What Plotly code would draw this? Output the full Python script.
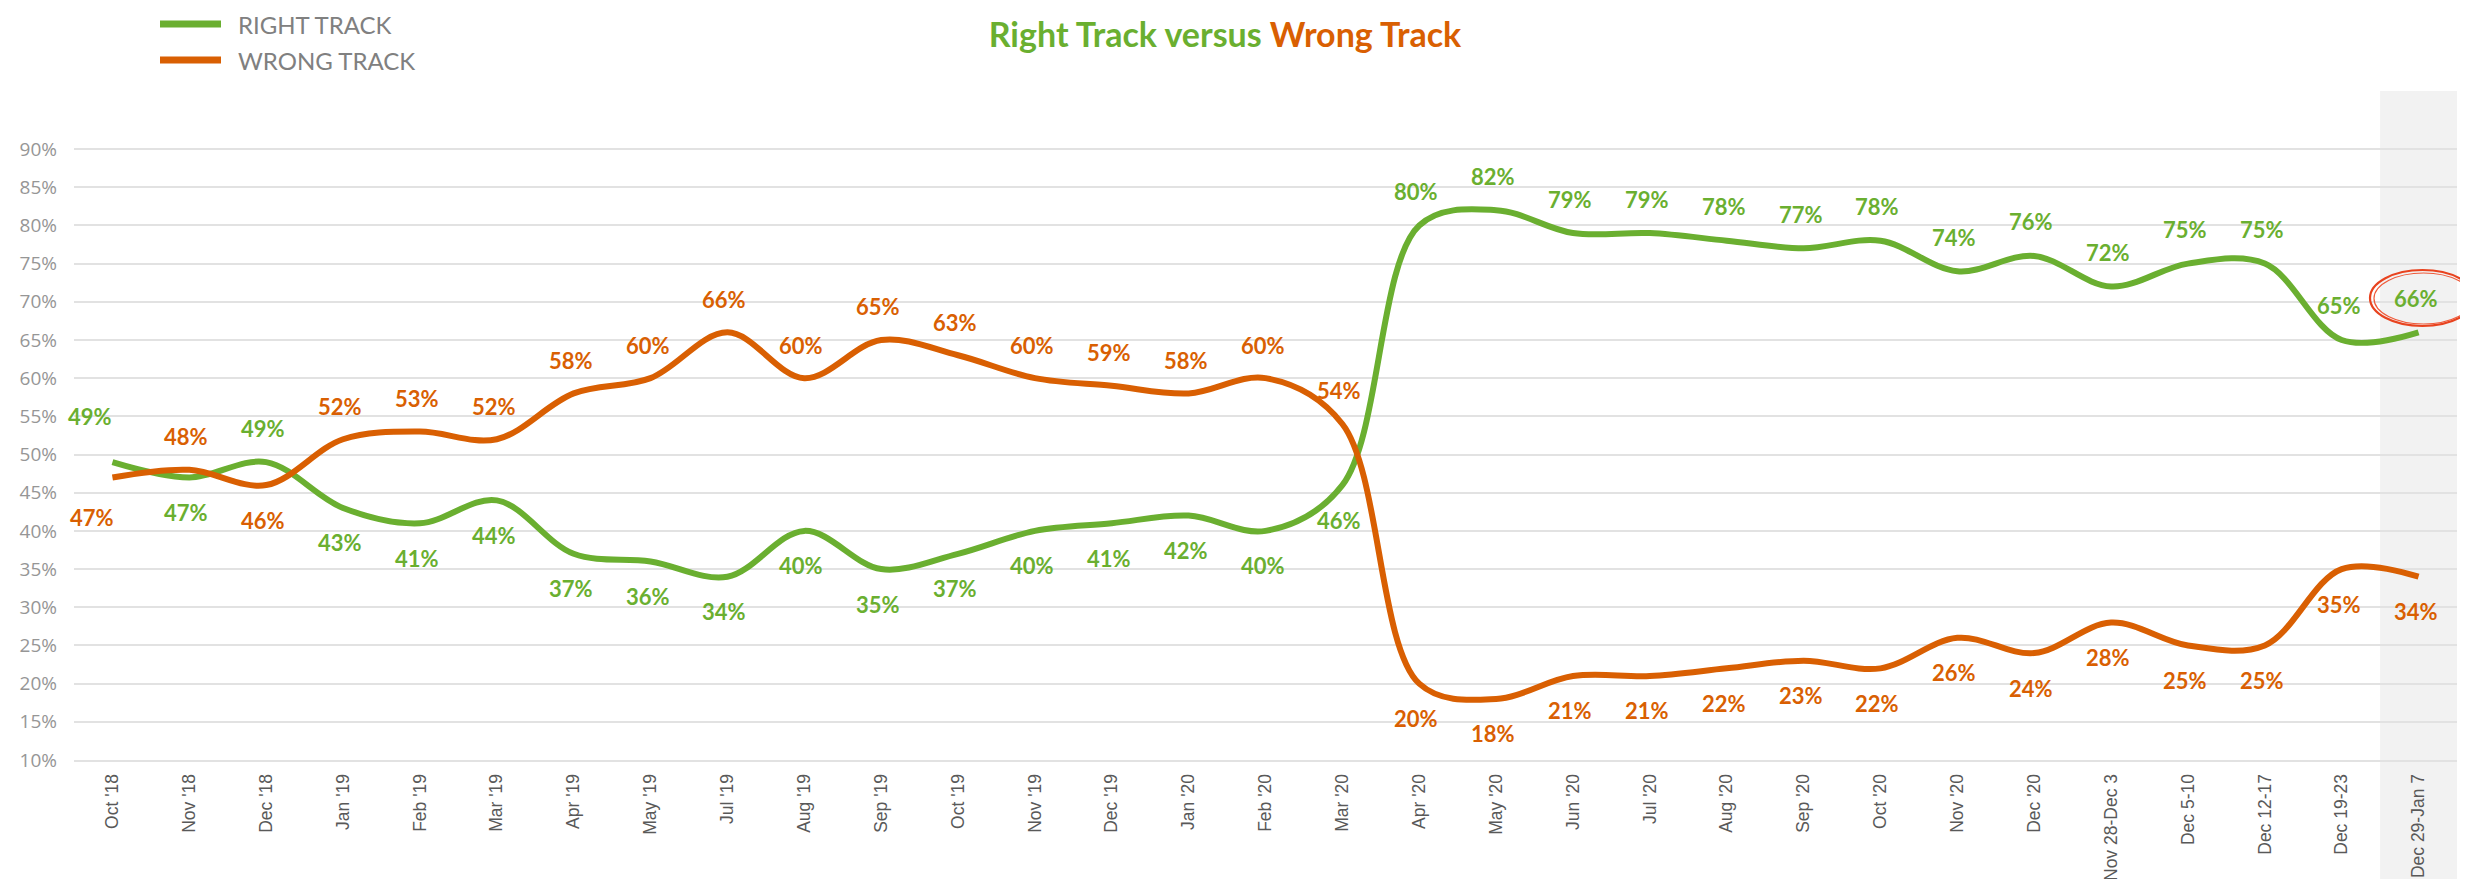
import plotly.graph_objects as go

# ---------------- data ----------------
categories = ["Oct '18", "Nov '18", "Dec '18", "Jan '19", "Feb '19", "Mar '19", "Apr '19",
              "May '19", "Jul '19", "Aug '19", "Sep '19", "Oct '19", "Nov '19", "Dec '19",
              "Jan '20", "Feb '20", "Mar '20", "Apr '20", "May '20", "Jun '20", "Jul '20",
              "Aug '20", "Sep '20", "Oct '20", "Nov '20", "Dec '20", "Nov 28-Dec 3",
              "Dec 5-10", "Dec 12-17", "Dec 19-23", "Dec 29-Jan 7"]
right_track = [49, 47, 49, 43, 41, 44, 37, 36, 34, 40, 35, 37, 40, 41, 42, 40, 46,
               80, 82, 79, 79, 78, 77, 78, 74, 76, 72, 75, 75, 65, 66]
wrong_track = [47, 48, 46, 52, 53, 52, 58, 60, 66, 60, 65, 63, 60, 59, 58, 60, 54,
               20, 18, 21, 21, 22, 23, 22, 26, 24, 28, 25, 25, 35, 34]
y_ticks = list(range(10, 95, 5))
y_tick_labels = [f"{v}%" for v in y_ticks]
series_names = ["RIGHT TRACK", "WRONG TRACK"]

# ---------------- style ----------------
GREEN = "#6aaf30"
ORANGE = "#d95f02"
W, H = 2468, 879
L, R, T, B = 66, 19, 83, 127
PW, PH = W - L - R, H - T - B
Y_MIN, Y_MAX = 10, 97.6


def pxx(px):
    return (px - L) / PW


def pxy(py):
    return (H - B - py) / PH


fig = go.Figure()
fig.add_trace(go.Scatter(x=categories, y=right_track, mode="lines", name=series_names[0],
                         line=dict(color=GREEN, width=6, shape="spline", smoothing=1.0),
                         showlegend=False))
fig.add_trace(go.Scatter(x=categories, y=wrong_track, mode="lines", name=series_names[1],
                         line=dict(color=ORANGE, width=6, shape="spline", smoothing=1.0),
                         showlegend=False))

# label placement: True = above the point
n = len(categories)
green_above = [i in (0, 2) or i >= 17 for i in range(n)]
orange_above = [not a for a in green_above]

LABEL_FONT = "Lato"
LABEL_SIZE = 22

annotations = []
for i, (c, v) in enumerate(zip(categories, right_track)):
    up = green_above[i]
    ys = 34 if up else -35
    xs = -3
    if i == 0:
        ys, xs = 46, -22
    annotations.append(dict(x=c, y=v, xref="x", yref="y", text=f"{v}%", showarrow=False,
                            yshift=ys, xshift=xs,
                            font=dict(family=LABEL_FONT, size=LABEL_SIZE, color=GREEN,
                                      weight="bold")))
for i, (c, v) in enumerate(zip(categories, wrong_track)):
    up = orange_above[i]
    ys = 33 if up else -35
    xs = -3
    if i == 0:
        ys, xs = -40, -20
    annotations.append(dict(x=c, y=v, xref="x", yref="y", text=f"{v}%", showarrow=False,
                            yshift=ys, xshift=xs,
                            font=dict(family=LABEL_FONT, size=LABEL_SIZE, color=ORANGE,
                                      weight="bold")))

# manual legend text
for name, py in zip(series_names, [16, 52]):
    annotations.append(dict(x=pxx(228), y=pxy(py), xref="paper", yref="paper", text=name,
                            showarrow=False, xanchor="left", yanchor="middle",
                            font=dict(family="Lato", size=24, color="#808080")))

shapes = []
# highlighted last period band
shapes.append(dict(type="rect", xref="paper", yref="paper",
                   x0=(n - 1) / n, x1=1.0, y0=pxy(H + 5), y1=1.0,
                   fillcolor="#f2f2f2", line=dict(width=0), layer="below"))
# legend line samples
for col, py in zip([GREEN, ORANGE], [16, 52]):
    shapes.append(dict(type="line", xref="paper", yref="paper",
                       x0=pxx(152), x1=pxx(213), y0=pxy(py), y1=pxy(py),
                       line=dict(color=col, width=7)))
# hand-drawn style red circle
shapes.append(dict(type="circle", xref="paper", yref="paper",
                   x0=pxx(2362), x1=pxx(2467), y0=pxy(318), y1=pxy(262),
                   line=dict(color="#e8431f", width=2.2)))
shapes.append(dict(type="circle", xref="paper", yref="paper",
                   x0=pxx(2366), x1=pxx(2465), y0=pxy(316), y1=pxy(265),
                   line=dict(color="#ef5a3a", width=1.2)))

fig.update_layout(
    width=W, height=H,
    margin=dict(l=L, r=R, t=T, b=B, autoexpand=False),
    paper_bgcolor="white", plot_bgcolor="white",
    title=dict(text=f"<span style='color:{GREEN}'>Right Track versus </span>"
                    f"<span style='color:{ORANGE}'>Wrong Track</span>",
               x=1217 / W, xanchor="center", y=1 - 27 / H, yanchor="middle",
               font=dict(family="Lato", size=34, weight="bold")),
    annotations=annotations,
    shapes=shapes,
    showlegend=False,
)
fig.update_xaxes(type="category", categoryorder="array", categoryarray=categories,
                 range=[-0.5, n - 0.5], tickangle=-90, showgrid=False,
                 showline=True, linecolor="#e2e2e2", linewidth=2,
                 ticks="", ticklabelstandoff=5, automargin=False,
                 tickfont=dict(family="Liberation Sans", size=17.5, color="#595959"))
fig.update_yaxes(range=[Y_MIN, Y_MAX], tickmode="array", tickvals=y_ticks,
                 ticktext=y_tick_labels,
                 showgrid=True, gridcolor="#e2e2e2", gridwidth=2, zeroline=False,
                 ticks="", ticklabelstandoff=16, automargin=False,
                 tickfont=dict(family="Open Sans", size=19, color="#969696"))

fig.write_html("out.html")
